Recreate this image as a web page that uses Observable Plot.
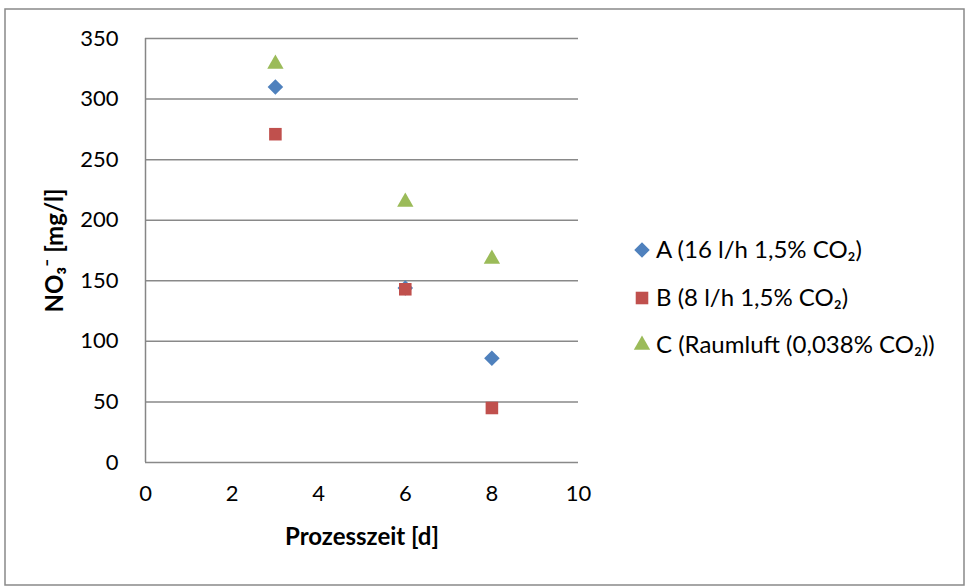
<!DOCTYPE html>
<html>
<head>
<meta charset="utf-8">
<script src="https://cdn.jsdelivr.net/npm/d3@7"></script>
<script src="https://cdn.jsdelivr.net/npm/@observablehq/plot@0.6"></script>
<style>
  html, body { margin: 0; padding: 0; background: #fff; }
  #chart { position: relative; width: 968px; height: 586px; }
</style>
</head>
<body>
<div id="chart"></div>
<script>
const days = [3, 6, 8];
const seriesA = [310, 144, 86];
const seriesB = [271, 143, 45];
const seriesC = [329, 215, 168];
const seriesNames = ["A (16 l/h 1,5% CO₂)", "B (8 l/h 1,5% CO₂)", "C (Raumluft (0,038% CO₂))"];
const seriesColors = ["#4F81BD", "#C0504D", "#9BBB59"];
const seriesSymbols = ["diamond2", "square2", "triangle2"];
const seriesR = [7.0, 8.0, 7.8];
const xTicks = [0, 2, 4, 6, 8, 10];
const yTicks = [0, 50, 100, 150, 200, 250, 300, 350];

const allSeries = [seriesA, seriesB, seriesC];
const tables = allSeries.map((vals, i) => days.map((d, j) => ({day: d, value: vals[j], series: seriesNames[i]})));

const font = "Lato, 'Open Sans', sans-serif";
const chart = Plot.plot({
  width: 968,
  height: 586,
  marginLeft: 145,
  marginRight: 390,
  marginTop: 38,
  marginBottom: 124,
  style: {fontFamily: font, background: "#fff", color: "#000"},
  x: {domain: [0, 10], ticks: xTicks},
  y: {domain: [0, 350], ticks: yTicks},
  symbol: {type: "identity"},
  marks: [
    Plot.gridY(yTicks, {stroke: "#898989", strokeOpacity: 1, strokeWidth: 1.5}),
    Plot.ruleX([0], {stroke: "#868686", strokeWidth: 1.5}),
    Plot.axisX({ticks: xTicks, tickSize: 0, tickPadding: 23, fontSize: 22, label: "Prozesszeit [d]", labelAnchor: "center", labelOffset: 82, labelArrow: "none"}),
    Plot.axisY({ticks: yTicks, tickSize: 0, tickPadding: 27, fontSize: 22, label: "NO₃⁻ [mg/l]", labelAnchor: "center", labelOffset: 100, labelArrow: "none"}),
    ...tables.map((t, i) => Plot.dot(t, {x: "day", y: "value", symbol: () => seriesSymbols[i], fill: seriesColors[i], stroke: "none", r: seriesR[i]}))
  ]
});

const svg = d3.select(chart);
svg.selectAll('g[aria-label="x-axis label"] text, g[aria-label="y-axis label"] text')
  .attr("font-weight", "bold").attr("font-size", 24);

// chart border
svg.insert("rect", ":first-child")
  .attr("x", 5).attr("y", 9).attr("width", 959).attr("height", 576)
  .attr("fill", "none").attr("stroke", "#898989").attr("stroke-width", 1.5);

// legend
const legend = svg.append("g").attr("font-family", font).attr("font-size", 24).attr("text-anchor", "start");
const legendY = [250, 298, 345];
const symbolTypes = {diamond2: d3.symbolDiamond2, square2: d3.symbolSquare2, triangle2: d3.symbolTriangle2};
seriesNames.forEach((name, i) => {
  const r = seriesR[i];
  legend.append("path")
    .attr("transform", `translate(642,${legendY[i]})`)
    .attr("d", d3.symbol(symbolTypes[seriesSymbols[i]], Math.PI * r * r)())
    .attr("fill", seriesColors[i]);
  legend.append("text")
    .attr("x", 656).attr("y", legendY[i]).attr("dy", "0.35em")
    .text(name);
});

document.getElementById("chart").appendChild(chart);
</script>
</body>
</html>
